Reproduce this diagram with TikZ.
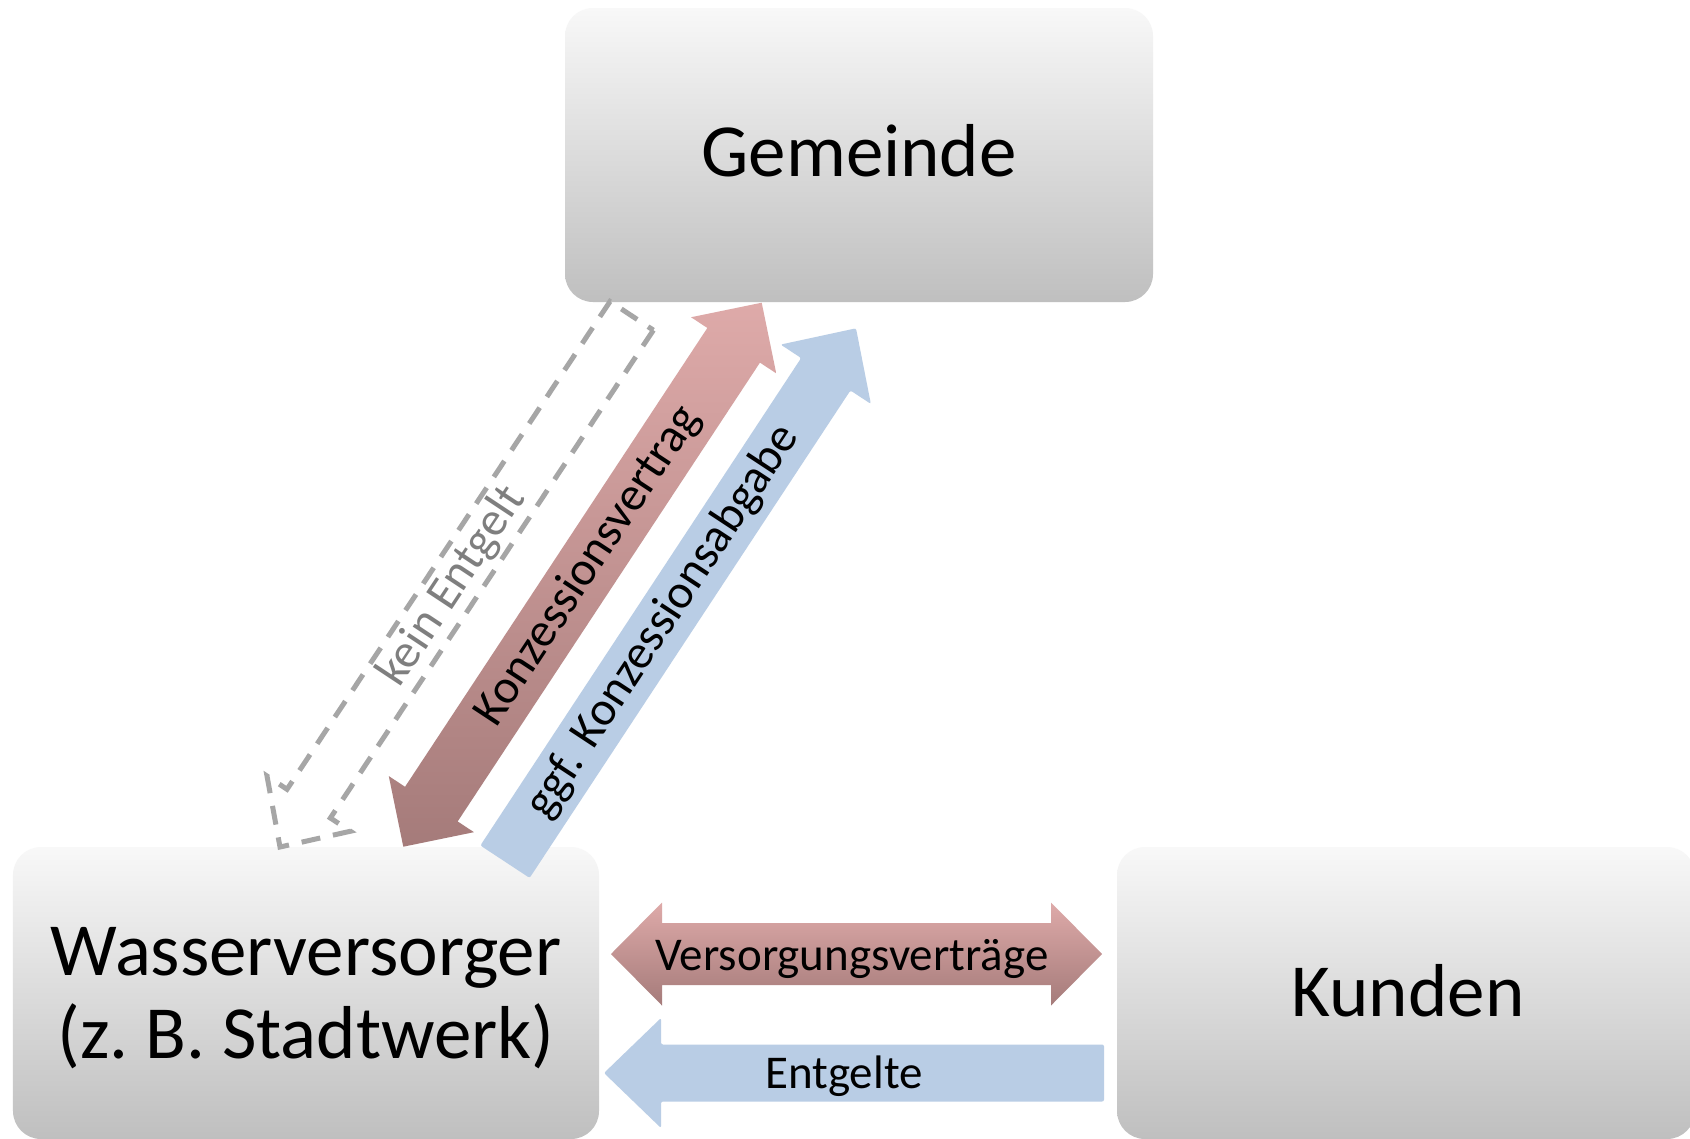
\documentclass[tikz,border=0pt]{standalone}
\usepackage{fontspec}
\setmainfont{Carlito}
\usetikzlibrary{calc}
\definecolor{boxtop}{HTML}{F8F8F8}
\definecolor{boxmid}{HTML}{E3E3E3}
\definecolor{boxbot}{HTML}{BFBFBF}
\definecolor{redtop}{HTML}{DEAAA9}
\definecolor{redbot}{HTML}{A57B7A}
\definecolor{bluefill}{HTML}{B9CDE5}
\definecolor{dashgray}{HTML}{A6A6A6}
\definecolor{textgray}{HTML}{7F7F7F}
% double block arrow: #1 style, #2 tip A, #3 tip B, #4 shaft half, #5 head half, #6 head length
\newcommand\mkdblarrow[6]{%
  \coordinate (#2-n) at ($(#2)!#6!(#3)$);
  \coordinate (#3-n) at ($(#3)!#6!(#2)$);
  \path[#1] (#2) -- ($(#2-n)!#5!90:(#3)$) -- ($(#2-n)!#4!90:(#3)$)
    -- ($(#3-n)!#4!-90:(#2)$) -- ($(#3-n)!#5!-90:(#2)$) -- (#3)
    -- ($(#3-n)!#5!90:(#2)$) -- ($(#3-n)!#4!90:(#2)$)
    -- ($(#2-n)!#4!-90:(#3)$) -- ($(#2-n)!#5!-90:(#3)$) -- cycle;
}
% single block arrow: #1 style, #2 tail, #3 tip, #4 shaft half, #5 head half, #6 head length
\newcommand\mksglarrow[6]{%
  \coordinate (#3-n) at ($(#3)!#6!(#2)$);
  \path[#1] ($(#2)!#4!90:(#3)$) -- ($(#3-n)!#4!-90:(#2)$) -- ($(#3-n)!#5!-90:(#2)$)
    -- (#3) -- ($(#3-n)!#5!90:(#2)$) -- ($(#3-n)!#4!90:(#2)$)
    -- ($(#2)!#4!-90:(#3)$) -- cycle;
}
\begin{document}
\begin{tikzpicture}[x=1bp,y=-1bp,
  box/.style={rounded corners=28bp, top color=boxtop, middle color=boxmid, bottom color=boxbot, draw=none, inner sep=0pt},
  boxtext/.style={font=\fontsize{75bp}{83bp}\selectfont, anchor=base, align=center, inner sep=0pt},
  redarrow/.style={top color=redtop, bottom color=redbot, draw=none},
  bluearrow/.style={fill=bluefill, draw=none, rounded corners=2bp},
  dasharrow/.style={draw=dashgray, line width=5bp, dash pattern=on 19bp off 13bp, line join=miter},
  diagtext/.style={font=\fontsize{48bp}{58bp}\selectfont, inner sep=0pt, sloped},
  htext/.style={font=\fontsize{47bp}{56bp}\selectfont, anchor=base, inner sep=0pt}]
\useasboundingbox[fill=white] (0,0) rectangle (1690,1138);

% boxes
\node[box, minimum width=588bp, minimum height=294bp] (gem) at (859,155) {};
\node[box, minimum width=586bp, minimum height=292bp] (wv) at (306,993) {};
\node[box, minimum width=578bp, minimum height=292bp] (ku) at (1406,993) {};
\node[boxtext] (gemT) at (859,176) {Gemeinde};
\node[boxtext] (wvT) at (306,1058) {Wasserversorger\\(z.\ B. Stadtwerk)};
\node[boxtext] (kuT) at (1408,1016) {Kunden};

% arrow end points
\coordinate (vvA) at (611,954);
\coordinate (vvB) at (1102,954);
\coordinate (egA) at (1104,1073);
\coordinate (egB) at (604,1073);
\coordinate (kvA) at (403.3,846.7);
\coordinate (kvB) at (761.7,302.7);
\coordinate (kaA) at (505,861.7);
\coordinate (kaB) at (856,328.3);
\coordinate (keA) at (631.7,315.8);
\coordinate (keB) at (280,847);

% arrows
\mksglarrow{dasharrow}{keA}{keB}{26bp}{50bp}{52bp}
\mkdblarrow{redarrow}{kvA}{kvB}{31.5bp}{51bp}{51bp}
\mksglarrow{bluearrow}{kaA}{kaB}{29.5bp}{54bp}{55bp}
\mkdblarrow{redarrow}{vvA}{vvB}{31bp}{51.5bp}{51bp}
\mksglarrow{bluearrow}{egA}{egB}{28.5bp}{55bp}{57bp}

% labels
\path (keB) -- (keA) node[diagtext, pos=0.49, text=textgray] (keT) {kein Entgelt};
\path (kvA) -- (kvB) node[diagtext, pos=0.516] (kvT) {Konzessionsvertrag};
\path (kaA) -- (kaB) node[diagtext, pos=0.45] (kaT) {ggf. Konzessionsabgabe};
\node[htext] (vvT) at (852,970) {Versorgungsverträge};
\node[htext] (egT) at (844,1088.7) {Entgelte};
\end{tikzpicture}
\end{document}
